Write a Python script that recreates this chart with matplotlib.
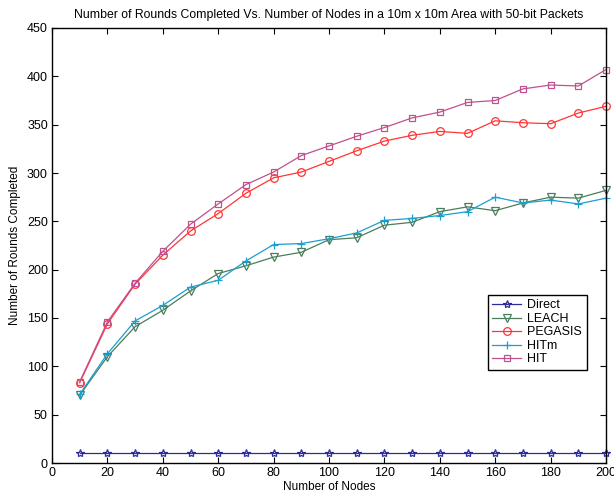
import matplotlib
matplotlib.use("Agg")
import matplotlib.pyplot as plt

plt.rcParams['font.family'] = ['Liberation Sans', 'DejaVu Sans']

nodes = [10, 20, 30, 40, 50, 60, 70, 80, 90, 100,
         110, 120, 130, 140, 150, 160, 170, 180, 190, 200]

direct = [10] * 20
leach = [70, 110, 141, 158, 178, 196, 204, 213, 218, 231,
         233, 246, 249, 260, 265, 261, 269, 275, 274, 282]
pegasis = [83, 144, 185, 215, 240, 258, 279, 295, 301, 312,
           323, 333, 339, 343, 341, 354, 352, 351, 362, 369]
hitm = [71, 113, 147, 163, 182, 189, 209, 226, 227, 232,
        238, 251, 253, 256, 260, 275, 269, 272, 268, 274]
hit = [84, 146, 186, 219, 247, 268, 288, 301, 318, 328,
       338, 347, 357, 363, 373, 375, 387, 391, 390, 407]

series = [
    ("Direct", direct, '*', '#2b2b9a', 6),
    ("LEACH", leach, 'v', '#4a7d5c', 6),
    ("PEGASIS", pegasis, 'o', '#ff3535', 5.5),
    ("HITm", hitm, '+', '#1a9fd0', 6),
    ("HIT", hit, 's', '#c0508f', 4.5),
]

fig = plt.figure(figsize=(6.14, 4.98), dpi=100)
ax = fig.add_axes([52 / 614, 35 / 498, 554 / 614, 435 / 498])

for name, vals, mk, col, ms in series:
    ax.plot(nodes, vals, marker=mk, color=col, label=name, lw=0.9,
            markersize=ms, markerfacecolor='none', markeredgewidth=0.9,
            clip_on=False)

ax.set_xlim(0, 200)
ax.set_ylim(0, 450)
ax.set_xticks(range(0, 201, 20))
ax.set_yticks(range(0, 451, 50))
ax.tick_params(direction='in', length=4, labelsize=9, width=0.8,
               top=True, right=True, pad=3)
for s in ax.spines.values():
    s.set_linewidth(1.0)

ax.set_xlabel("Number of Nodes", fontsize=8.5, labelpad=1)
ax.set_ylabel("Number of Rounds Completed", fontsize=8.5, labelpad=4)
ax.set_title("Number of Rounds Completed Vs. Number of Nodes in a 10m x 10m Area with 50-bit Packets",
             fontsize=8.8, pad=7)

leg = ax.legend(loc='upper left', bbox_to_anchor=(436 / 554, (463 - 295) / 435),
                fontsize=9, fancybox=False, edgecolor='black', framealpha=1,
                borderpad=0.35, labelspacing=0.12, handlelength=2.3,
                handletextpad=0.5, borderaxespad=0)
leg.get_frame().set_linewidth(1.0)

fig.savefig("out.png", dpi=100)
